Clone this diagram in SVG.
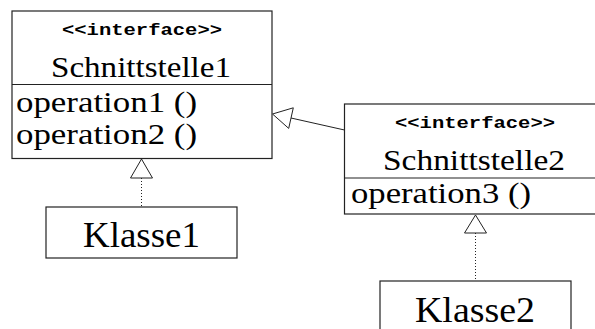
<svg xmlns="http://www.w3.org/2000/svg" width="595" height="329" viewBox="0 0 595 329">
<style>
.box{fill:#fff;stroke:#222;stroke-width:1.2}
.div{stroke:#222;stroke-width:1.2}
.st{font-weight:bold;font-size:17px;fill:#000}
.nm{font-size:29px;fill:#000}
.op{font-size:29px;fill:#000}
.cl{font-size:36px;fill:#000}
.line{fill:none;stroke:#222;stroke-width:1}
.dot{fill:none;stroke:#222;stroke-width:1;stroke-dasharray:1 2}
.tri{fill:#fff;stroke:#222;stroke-width:1}
</style>
<rect width="595" height="329" fill="#fff"/>
<g id="Schnittstelle1">
<rect class="box" x="12" y="11" width="260" height="147.5"/>
<line class="div" x1="12" y1="84.5" x2="272" y2="84.5"/>
<text class="st" font-family="Liberation Mono, DejaVu Sans Mono, monospace" x="142" y="34.5" text-anchor="middle" textLength="160" lengthAdjust="spacingAndGlyphs">&lt;&lt;interface&gt;&gt;</text>
<text class="nm" font-family="Liberation Serif, DejaVu Serif, serif" x="141" y="77" text-anchor="middle" textLength="180" lengthAdjust="spacingAndGlyphs">Schnittstelle1</text>
<text class="op" font-family="Liberation Serif, DejaVu Serif, serif" x="16" y="112" textLength="181" lengthAdjust="spacingAndGlyphs">operation1 ()</text>
<text class="op" font-family="Liberation Serif, DejaVu Serif, serif" x="16" y="144" textLength="181" lengthAdjust="spacingAndGlyphs">operation2 ()</text>
</g>
<g id="Schnittstelle2">
<rect class="box" x="344.5" y="104" width="264" height="110"/>
<line class="div" x1="344.5" y1="178" x2="608" y2="178"/>
<text class="st" font-family="Liberation Mono, DejaVu Sans Mono, monospace" x="475" y="128" text-anchor="middle" textLength="160" lengthAdjust="spacingAndGlyphs">&lt;&lt;interface&gt;&gt;</text>
<text class="nm" font-family="Liberation Serif, DejaVu Serif, serif" x="474" y="169.5" text-anchor="middle" textLength="182" lengthAdjust="spacingAndGlyphs">Schnittstelle2</text>
<text class="op" font-family="Liberation Serif, DejaVu Serif, serif" x="351" y="203" textLength="180" lengthAdjust="spacingAndGlyphs">operation3 ()</text>
</g>
<g id="Klasse1">
<rect class="box" x="46" y="207" width="191" height="51"/>
<text class="cl" font-family="Liberation Serif, DejaVu Serif, serif" x="141.5" y="246.5" text-anchor="middle" textLength="117" lengthAdjust="spacingAndGlyphs">Klasse1</text>
</g>
<g id="Klasse2">
<rect class="box" x="380" y="281" width="191" height="60"/>
<text class="cl" font-family="Liberation Serif, DejaVu Serif, serif" x="475" y="321.5" text-anchor="middle" textLength="120" lengthAdjust="spacingAndGlyphs">Klasse2</text>
</g>
<g id="connectors">
<line class="line" x1="344.5" y1="130" x2="291" y2="118"/>
<polygon class="tri" points="272.5,114 293.3,107.8 288.7,128.4"/>
<line class="dot" x1="141.5" y1="178" x2="141.5" y2="207"/>
<polygon class="tri" points="141.5,159 152.5,178 130.5,178"/>
<line class="dot" x1="475.5" y1="233" x2="475.5" y2="281"/>
<polygon class="tri" points="475.5,215 486.5,233 464.5,233"/>
</g>
</svg>
